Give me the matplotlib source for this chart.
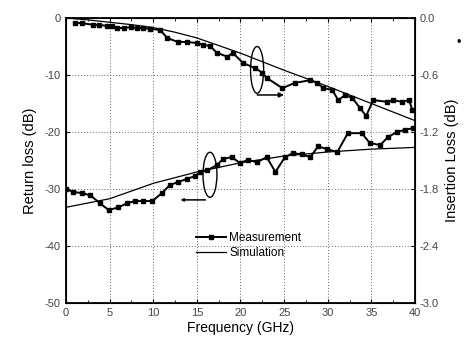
import matplotlib
matplotlib.use("Agg")
import matplotlib.pyplot as plt
from matplotlib.patches import Ellipse

plt.rcParams['font.family'] = ['Liberation Sans', 'DejaVu Sans']

# Return loss (dB) vs frequency (GHz)
rl_meas_f = [0.0, 0.8, 1.8, 2.8, 3.9, 4.9, 6.0, 7.0, 7.9, 8.8, 9.9, 11.0, 11.9, 12.8,
             13.9, 14.8, 15.4, 16.2, 17.3, 18.0, 19.0, 19.9, 20.9, 21.9, 23.0, 24.0,
             25.1, 26.0, 27.0, 28.0, 28.9, 29.9, 31.1, 32.3, 33.9, 34.8, 36.0, 36.9,
             37.9, 38.9, 39.8]
rl_meas = [-30.0, -30.5, -30.7, -31.1, -32.5, -33.7, -33.2, -32.5, -32.1, -32.1, -32.1,
           -30.7, -29.3, -28.8, -28.2, -27.7, -27.0, -26.7, -25.8, -24.7, -24.4, -25.4,
           -24.9, -25.3, -24.4, -27.0, -24.4, -23.7, -23.9, -24.4, -22.5, -23.0, -23.5,
           -20.2, -20.2, -21.9, -22.3, -20.9, -20.0, -19.6, -19.3]
rl_sim_f = [0, 5, 10, 15, 20, 25, 30, 35, 40]
rl_sim = [-33.2, -31.7, -29.0, -27.0, -25.4, -24.2, -23.5, -23.0, -22.7]

# Insertion loss (dB) vs frequency (GHz)
il_meas_f = [1.0, 1.8, 3.1, 3.8, 4.7, 5.3, 5.8, 6.6, 7.4, 8.1, 8.8, 9.6, 10.8, 11.6,
             12.8, 13.9, 15.0, 15.7, 16.5, 17.3, 18.5, 19.1, 20.3, 21.7, 22.5, 23.0,
             24.8, 26.2, 28.0, 28.8, 29.5, 30.5, 31.2, 32.0, 32.8, 33.7, 34.4, 35.2,
             36.8, 37.5, 38.5, 39.3, 39.7]
il_meas = [-0.053, -0.053, -0.072, -0.072, -0.084, -0.084, -0.105, -0.105, -0.096,
           -0.105, -0.105, -0.114, -0.126, -0.210, -0.252, -0.252, -0.264, -0.282,
           -0.294, -0.366, -0.408, -0.366, -0.474, -0.528, -0.576, -0.630, -0.738,
           -0.684, -0.654, -0.684, -0.738, -0.756, -0.864, -0.810, -0.840, -0.948,
           -1.032, -0.864, -0.882, -0.864, -0.882, -0.864, -0.966]
il_sim_f = [0, 2.5, 5, 7.5, 10, 12.5, 15, 17.5, 20, 25, 30, 35, 40]
il_sim = [0.0, -0.02, -0.045, -0.07, -0.10, -0.15, -0.21, -0.29, -0.37, -0.55,
          -0.72, -0.90, -1.08]

x_ticks = [0, 5, 10, 15, 20, 25, 30, 35, 40]
rl_ticks = [0, -10, -20, -30, -40, -50]
il_ticks = [0.0, -0.6, -1.2, -1.8, -2.4, -3.0]

fig = plt.figure(figsize=(4.7, 3.5), dpi=100)
ax = fig.add_axes([0.1404, 0.134, 0.7426, 0.8146])
ax2 = ax.twinx()

ax.set_xlim(0, 40)
ax.set_ylim(-50, 0)
ax2.set_ylim(-3.0, 0.0)

ax.grid(True, color='#666666', linestyle=(0, (1, 2)), linewidth=0.7)
ax.set_axisbelow(True)

meas_kw = dict(color='black', linewidth=1.4, marker='s', markersize=3.5)
sim_kw = dict(color='black', linewidth=0.9)

ax.plot(rl_meas_f, rl_meas, label='Measurement', **meas_kw)
ax.plot(rl_sim_f, rl_sim, label='Simulation', **sim_kw)
ax2.plot(il_meas_f, il_meas, **meas_kw)
ax2.plot(il_sim_f, il_sim, **sim_kw)

# Ellipses marking which curve belongs to which axis
ax.add_patch(Ellipse((21.9, -9.1), 1.5, 8.2, fill=False, edgecolor='black', linewidth=1.0))
ax.annotate('', xy=(25.3, -13.5), xytext=(21.6, -13.5),
            arrowprops=dict(arrowstyle='-|>', color='black', lw=1.1, mutation_scale=7))
ax.add_patch(Ellipse((16.5, -27.5), 1.6, 7.9, fill=False, edgecolor='black', linewidth=1.0))
ax.annotate('', xy=(12.8, -31.9), xytext=(16.3, -31.9),
            arrowprops=dict(arrowstyle='-|>', color='black', lw=1.1, mutation_scale=4))

ax.set_xticks(x_ticks)
ax.set_xticklabels([str(v) for v in x_ticks])
ax.set_yticks(rl_ticks)
ax.set_yticklabels([str(v) for v in rl_ticks])
ax2.set_yticks(il_ticks)
ax2.set_yticklabels([f"{v:.1f}" for v in il_ticks])
ax.set_xticks([2.5 + 5 * i for i in range(8)], minor=True)

ax.tick_params(axis='both', which='both', direction='in', top=True,
               labelsize=8, labelcolor='#444444', length=3)
ax.tick_params(axis='x', which='minor', length=2)
ax.tick_params(axis='y', pad=4)
ax2.tick_params(axis='y', direction='in', labelsize=8, labelcolor='#444444', length=3)

for sp in ax.spines.values():
    sp.set_linewidth(1.3)

ax.set_xlabel('Frequency (GHz)', fontsize=10, labelpad=2)
ax.set_ylabel('Return loss (dB)', fontsize=10.5, labelpad=5)
ax2.set_ylabel('Insertion Loss (dB)', fontsize=10.5, labelpad=4)

ax.legend(loc='upper left', bbox_to_anchor=(0.36, 0.265), frameon=False,
          fontsize=8.5, handlelength=2.5, handletextpad=0.3, labelspacing=0.25,
          borderaxespad=0)

fig.text(0.975, 0.878, '\u2022', fontsize=9, ha='center', va='center')

fig.savefig('out.png', dpi=100)
